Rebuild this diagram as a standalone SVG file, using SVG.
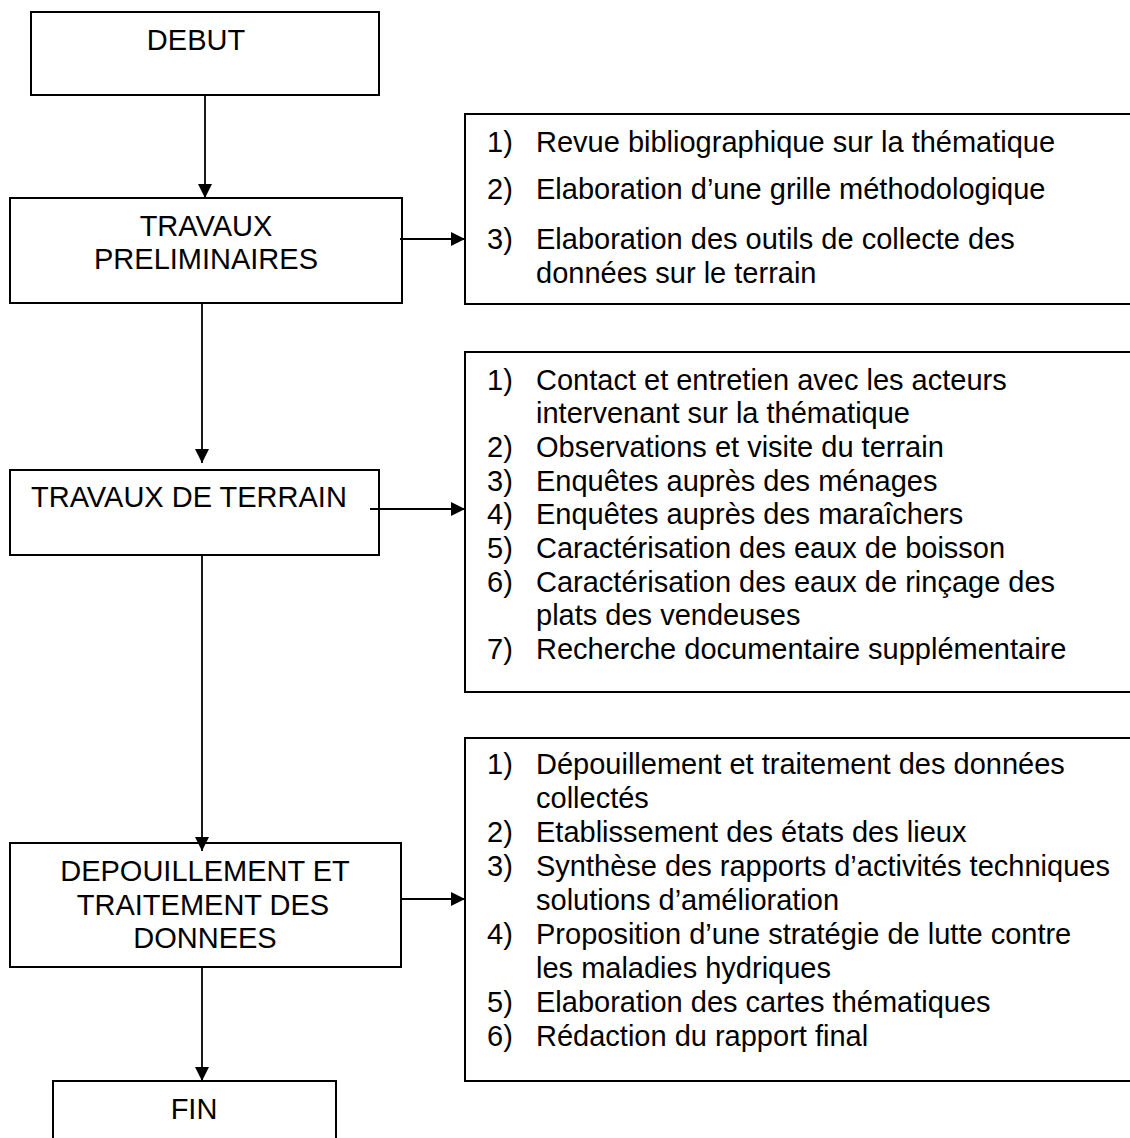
<svg xmlns="http://www.w3.org/2000/svg" width="1130" height="1138" viewBox="0 0 1130 1138">
<defs>
<style>
.box{fill:#fff;stroke:#000;stroke-width:2}
.t{font-family:"Liberation Sans",Arial,sans-serif;font-size:29px;fill:#000}
.c{text-anchor:middle}
.ln{stroke:#000;stroke-width:1.8;fill:none}
</style>
<marker id="ah" viewBox="0 0 10 10" refX="10" refY="5" markerWidth="16" markerHeight="14" markerUnits="userSpaceOnUse" orient="auto">
<path d="M0,0 L10,5 L0,10 z" fill="#000"/>
</marker>
</defs>
<rect width="1130" height="1138" fill="#fff"/>
<g id="debut">
<rect class="box" x="31" y="12" width="348" height="83"/>
<text class="t c" x="196" y="50">DEBUT</text>
</g>
<g id="travaux-preliminaires">
<rect class="box" x="10" y="198" width="392" height="105"/>
<text class="t c" x="206" y="236">TRAVAUX</text>
<text class="t c" x="206" y="269">PRELIMINAIRES</text>
</g>
<g id="liste-preliminaires">
<rect class="box" x="465" y="114" width="680" height="190"/>
<text class="t" x="487" y="152">1)</text><text class="t" x="536" y="152">Revue bibliographique sur la thématique</text>
<text class="t" x="487" y="199">2)</text><text class="t" x="536" y="199">Elaboration d’une grille méthodologique</text>
<text class="t" x="487" y="249">3)</text><text class="t" x="536" y="249">Elaboration des outils de collecte des</text>
<text class="t" x="536" y="283">données sur le terrain</text>
</g>
<g id="travaux-terrain">
<rect class="box" x="10" y="470" width="369" height="85"/>
<text class="t" x="31" y="507">TRAVAUX DE TERRAIN</text>
</g>
<g id="liste-terrain">
<rect class="box" x="465" y="352" width="680" height="340"/>
<text class="t" x="487" y="390">1)</text><text class="t" x="536" y="390">Contact et entretien avec les acteurs</text>
<text class="t" x="536" y="423">intervenant sur la thématique</text>
<text class="t" x="487" y="457">2)</text><text class="t" x="536" y="457">Observations et visite du terrain</text>
<text class="t" x="487" y="491">3)</text><text class="t" x="536" y="491">Enquêtes auprès des ménages</text>
<text class="t" x="487" y="524">4)</text><text class="t" x="536" y="524">Enquêtes auprès des maraîchers</text>
<text class="t" x="487" y="558">5)</text><text class="t" x="536" y="558">Caractérisation des eaux de boisson</text>
<text class="t" x="487" y="592">6)</text><text class="t" x="536" y="592">Caractérisation des eaux de rinçage des</text>
<text class="t" x="536" y="625">plats des vendeuses</text>
<text class="t" x="487" y="659">7)</text><text class="t" x="536" y="659">Recherche documentaire supplémentaire</text>
</g>
<g id="depouillement">
<rect class="box" x="10" y="843" width="391" height="124"/>
<text class="t c" x="205" y="881">DEPOUILLEMENT ET</text>
<text class="t c" x="203" y="915">TRAITEMENT DES</text>
<text class="t c" x="205" y="948">DONNEES</text>
</g>
<g id="liste-depouillement">
<rect class="box" x="465" y="738" width="680" height="343"/>
<text class="t" x="487" y="774">1)</text><text class="t" x="536" y="774">Dépouillement et traitement des données</text>
<text class="t" x="536" y="808">collectés</text>
<text class="t" x="487" y="842">2)</text><text class="t" x="536" y="842">Etablissement des états des lieux</text>
<text class="t" x="487" y="876">3)</text><text class="t" x="536" y="876">Synthèse des rapports d’activités techniques</text>
<text class="t" x="536" y="910">solutions d’amélioration</text>
<text class="t" x="487" y="944">4)</text><text class="t" x="536" y="944">Proposition d’une stratégie de lutte contre</text>
<text class="t" x="536" y="978">les maladies hydriques</text>
<text class="t" x="487" y="1012">5)</text><text class="t" x="536" y="1012">Elaboration des cartes thématiques</text>
<text class="t" x="487" y="1046">6)</text><text class="t" x="536" y="1046">Rédaction du rapport final</text>
</g>
<g id="fin">
<rect class="box" x="53" y="1081" width="283" height="80"/>
<text class="t c" x="194" y="1119">FIN</text>
</g>
<g id="connectors">
<line class="ln" x1="205" y1="95" x2="205" y2="198" marker-end="url(#ah)"/>
<line class="ln" x1="400" y1="239" x2="465" y2="239" marker-end="url(#ah)"/>
<line class="ln" x1="202" y1="303" x2="202" y2="463" marker-end="url(#ah)"/>
<line class="ln" x1="370" y1="509" x2="465" y2="509" marker-end="url(#ah)"/>
<line class="ln" x1="202" y1="555" x2="202" y2="851" marker-end="url(#ah)"/>
<line class="ln" x1="401" y1="899" x2="465" y2="899" marker-end="url(#ah)"/>
<line class="ln" x1="202" y1="967" x2="202" y2="1081" marker-end="url(#ah)"/>
</g>
</svg>
